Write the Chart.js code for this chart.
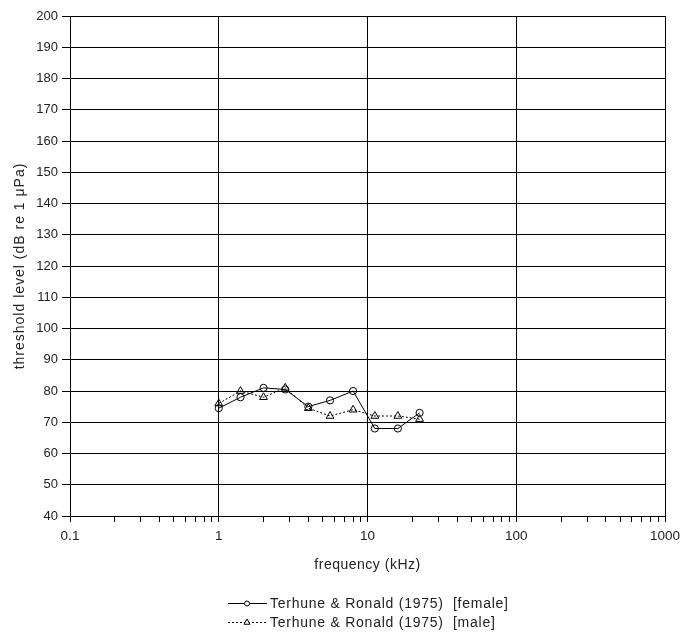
<!DOCTYPE html>
<html>
<head>
<meta charset="utf-8">
<script src="https://cdn.jsdelivr.net/npm/chart.js@4.4.0/dist/chart.umd.min.js"></script>
<style>
  html, body { margin: 0; padding: 0; background: #fff; }
  #wrap { position: relative; width: 681px; height: 632px; }
</style>
</head>
<body>
<div id="wrap"><canvas id="myChart"></canvas></div>
<script>
  // frequencies in kHz
  var freqs = [1, 1.4, 2, 2.8, 4, 5.6, 8, 11.2, 16, 22.4];
  // threshold levels (dB re 1 uPa)
  var femaleLevels = [74.5, 78, 81, 80.5, 75, 77, 80, 68, 68, 73];
  var maleLevels = [76, 80, 78, 81, 74.5, 72, 74, 72, 72, 71];
  var seriesNames = ["Terhune & Ronald (1975)  [female]", "Terhune & Ronald (1975)  [male]"];
  var xDecades = [0.1, 1, 10, 100, 1000];
  var xTitle = "frequency (kHz)";
  var yTitle = "threshold level (dB re 1 \u03bcPa)";

  var fontFamily = "'Liberation Sans', Arial, sans-serif";

  function toPoints(xs, ys) {
    return xs.map(function (x, i) {
      return { x: x, y: ys[i] };
    });
  }

  function isDecade(v) {
    var l = Math.log10(v);
    return Math.abs(l - Math.round(l)) < 1e-9;
  }

  // axis titles + legend (line sample with marker) drawn by hand,
  // the original uses a wider text rendering so letterSpacing is added
  var textPlugin = {
    id: "titlesAndLegend",
    afterDraw: function (chart) {
      var ctx = chart.ctx;
      var area = chart.chartArea;
      ctx.save();
      ctx.fillStyle = "#222";
      ctx.font = "14px " + fontFamily;
      ctx.textBaseline = "middle";

      // x title
      ctx.letterSpacing = "0.5px";
      ctx.textAlign = "center";
      ctx.fillText(xTitle, (area.left + area.right) / 2, 565);

      // y title
      ctx.save();
      ctx.translate(20, 266);
      ctx.rotate(-Math.PI / 2);
      ctx.letterSpacing = "1px";
      ctx.fillText(yTitle, 0, 0);
      ctx.restore();

      // legend
      var rows = [
        { y: 603, dash: [], style: "circle", r: 2.5, text: seriesNames[0] },
        { y: 622, dash: [2, 2], style: "triangle", r: 3.5, text: seriesNames[1] },
      ];
      rows.forEach(function (r) {
        ctx.strokeStyle = "#000";
        ctx.lineWidth = 1;
        ctx.setLineDash(r.dash);
        ctx.beginPath();
        ctx.moveTo(228, r.y + 0.5);
        ctx.lineTo(267, r.y + 0.5);
        ctx.stroke();
        ctx.setLineDash([]);
        ctx.fillStyle = "#fff";
        Chart.helpers.drawPoint(ctx, {
          pointStyle: r.style,
          radius: r.r,
          borderWidth: 1,
        }, 247, r.y + 0.5);
        ctx.fillStyle = "#222";
        ctx.letterSpacing = "0.75px";
        ctx.textAlign = "left";
        ctx.fillText(r.text, 270, r.y + 1);
      });
      ctx.restore();
    },
  };

  var ctx = document.getElementById("myChart").getContext("2d");
  var config = {
    type: "scatter",
    data: {
      datasets: [
        {
          label: seriesNames[0],
          data: toPoints(freqs, femaleLevels),
          showLine: true,
          borderColor: "#000",
          borderWidth: 1,
          backgroundColor: "#fff",
          pointStyle: "circle",
          pointRadius: 3.6,
          pointBorderWidth: 1,
          pointBorderColor: "#000",
          pointBackgroundColor: "rgba(255,255,255,0)",
        },
        {
          label: seriesNames[1],
          data: toPoints(freqs, maleLevels),
          showLine: true,
          borderColor: "#000",
          borderWidth: 1,
          borderDash: [2, 2],
          pointStyle: "triangle",
          pointRadius: 4.5,
          pointBorderWidth: 1,
          pointBorderColor: "#000",
          pointBackgroundColor: "rgba(255,255,255,0)",
        },
      ],
    },
    options: {
      responsive: true,
      maintainAspectRatio: false,
      animation: false,
      layout: { padding: { top: 16, right: 16, bottom: 58, left: 0 } },
      scales: {
        x: {
          type: "logarithmic",
          min: 0.1,
          max: 1000,
          afterBuildTicks: function (scale) {
            var ticks = [];
            for (var d = 0; d < xDecades.length - 1; d++) {
              for (var m = 1; m < 10; m++) {
                ticks.push({ value: +(m * xDecades[d]).toPrecision(6) });
              }
            }
            ticks.push({ value: xDecades[xDecades.length - 1] });
            scale.ticks = ticks;
          },
          afterFit: function (scale) {
            scale.height = 58;
            scale.paddingLeft = 0;
            scale.paddingRight = 0;
          },
          border: { color: "#000", width: 1 },
          grid: {
            color: function (c) {
              return c.tick && isDecade(c.tick.value) ? "#000" : "rgba(0,0,0,0)";
            },
            tickColor: "#000",
            tickLength: 6,
            lineWidth: 1,
          },
          ticks: {
            autoSkip: false,
            maxRotation: 0,
            padding: 6,
            color: "#222",
            font: { family: fontFamily, size: 13.5 },
            callback: function (v) {
              return isDecade(v) ? String(+v.toPrecision(6)) : "";
            },
          },
          title: { display: false },
        },
        y: {
          min: 40,
          max: 200,
          afterFit: function (scale) {
            scale.width = 70;
          },
          border: { color: "#000", width: 1 },
          grid: {
            color: "#000",
            tickColor: "#000",
            tickLength: 8,
            lineWidth: 1,
          },
          ticks: {
            stepSize: 10,
            padding: 4,
            color: "#222",
            font: { family: fontFamily, size: 13 },
          },
          title: { display: false },
        },
      },
      plugins: {
        legend: { display: false },
        tooltip: { enabled: false },
      },
    },
    plugins: [textPlugin],
  };
  var myChart = new Chart(ctx, config);
</script>
</body>
</html>
